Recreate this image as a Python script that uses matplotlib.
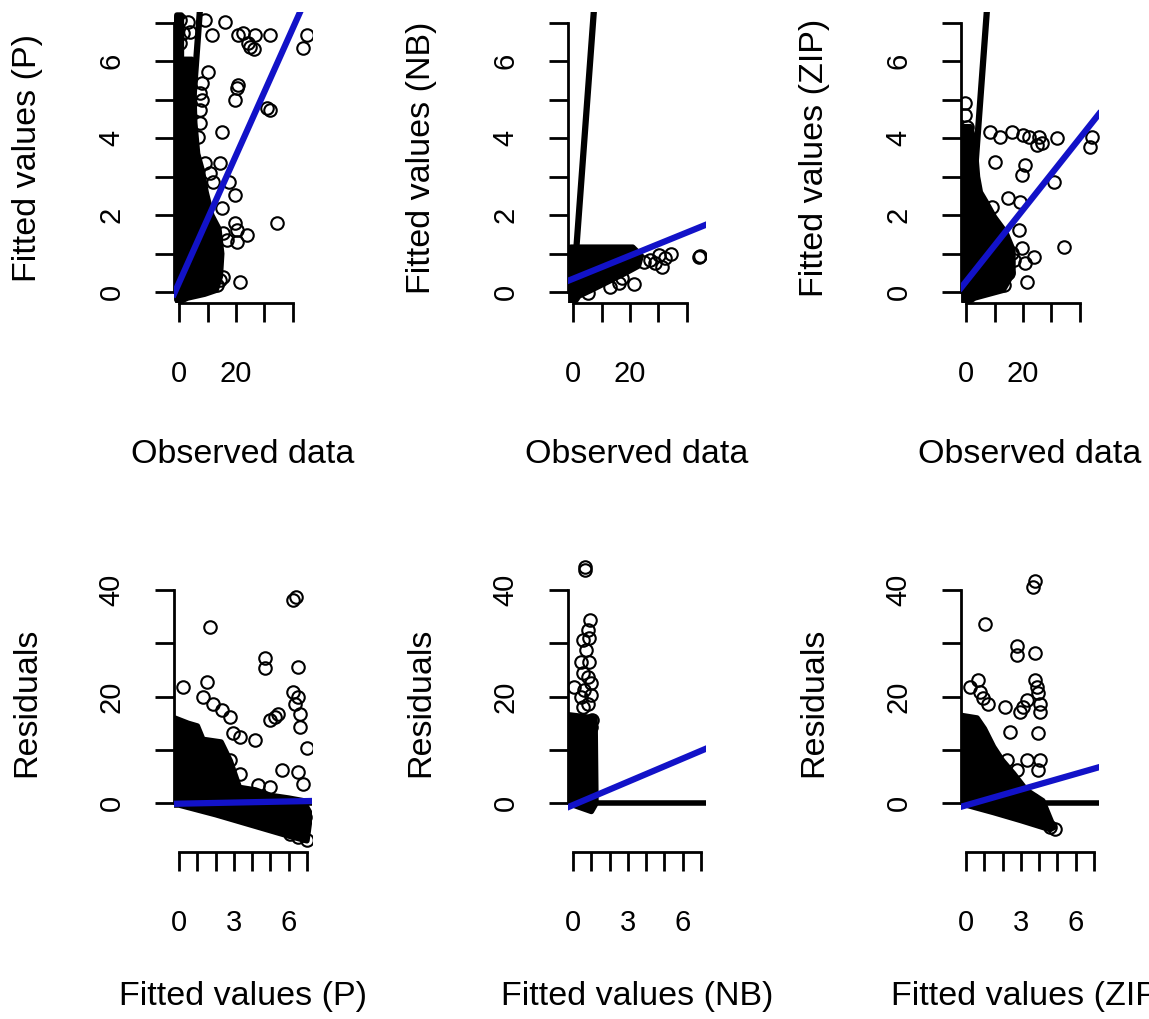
import matplotlib.pyplot as plt

plt.rcParams['font.family'] = ['Liberation Sans', 'DejaVu Sans']

# Observed counts vs fitted values, three models (points outside the dense cloud)
obs_p = [0.4, 3.3, 3.9, 1.5, 0.4, 9.2, 16.2, 11.5, 20.9, 22.6,
         26.8, 32.0, 24.4, 26.2, 25.0, 45.0, 43.8, 10.3, 20.9, 20.3,
         19.7, 30.9, 32.0, 15.0, 8.0, 7.4, 7.4, 6.8, 8.0, 7.4,
         9.2, 14.4, 10.9, 12.1, 17.4, 19.7, 15.0, 34.4, 19.7, 20.3,
         23.8, 15.6, 16.8, 20.3, 10.3, 11.5, 21.5, 15.6, 13.3, 14.4]
fit_p = [7.08, 7.03, 6.77, 6.73, 6.47, 7.06, 7.03, 6.69, 6.69, 6.73,
         6.69, 6.69, 6.47, 6.32, 6.38, 6.69, 6.34, 5.73, 5.39, 5.30,
         5.00, 4.78, 4.74, 4.17, 5.00, 4.74, 4.39, 4.04, 5.43, 5.17,
         3.35, 3.35, 3.09, 2.87, 2.87, 2.52, 2.18, 1.80, 1.79, 1.61,
         1.48, 1.53, 1.35, 1.31, 0.88, 0.66, 0.27, 0.40, 0.18, 0.31]

obs_nb = [21.3, 29.0, 31.3, 34.3, 32.5, 30.2, 27.2, 44.3, 44.6, 24.8,
          17.2, 13.1, 16.0, 5.4]
fit_nb = [0.22, 0.75, 0.66, 1.00, 0.88, 0.96, 0.83, 0.92, 0.95, 0.79,
          0.36, 0.14, 0.23, -0.03]

obs_zip = [-0.35, -0.35, 0.24, 8.5, 12.0, 16.1, 20.2, 22.0, 25.5, 24.9,
           26.7, 32.0, 44.4, 43.8, 10.2, 20.8, 19.7, 30.8, 14.9, 19.1,
           9.1, 34.4, 19.7, 23.8, 20.8, 16.1, 10.8, 14.9, 21.4, 13.2,
           16.7, 18.5]
fit_zip = [4.91, 4.61, 4.30, 4.17, 4.04, 4.17, 4.09, 4.04, 4.04, 3.83,
           3.87, 4.00, 4.04, 3.78, 3.39, 3.30, 3.04, 2.87, 2.44, 2.35,
           2.22, 1.18, 1.14, 0.92, 0.75, 1.01, 0.66, 0.49, 0.27, 0.18,
           0.83, 1.61]

# Fitted values vs residuals
res_fit_p = [0.24, 1.69, 1.51, 1.33, 1.87, 2.33, 2.79, 2.97, 3.33, 4.15,
             2.79, 3.33, 4.70, 4.70, 6.25, 6.43, 6.52, 6.25, 6.52, 6.34,
             6.61, 6.61, 6.98, 4.97, 5.25, 5.43, 5.61, 6.52, 6.79, 4.33,
             4.97, 6.89, 6.07, 6.98, 6.52, 5.70, 4.06, 4.43, 5.34]
res_p = [21.8, 33.1, 22.8, 20.0, 18.7, 17.5, 16.2, 13.1, 12.5, 11.8,
         8.1, 5.6, 27.2, 25.3, 38.1, 38.7, 25.6, 20.9, 20.0, 18.7,
         16.8, 14.3, 10.3, 15.6, 16.2, 16.8, 6.2, 5.9, 3.7, 3.4,
         3.1, -2.6, -5.7, -6.9, -6.3, -4.5, 1.8, 0.0, -1.9]

res_fit_nb = [0.65, 0.65, 0.93, 0.79, 0.88, 0.52, 0.70, 0.43, 0.88, 0.52,
              0.79, 0.07, 0.97, 0.61, 0.43, 0.97, 0.79, 0.52, 1.06, 0.97]
res_nb = [43.8, 44.3, 34.4, 32.5, 30.9, 30.6, 28.7, 26.5, 26.5, 24.4,
          23.7, 21.8, 22.5, 21.2, 20.0, 20.3, 18.7, 18.1, 15.6, 14.3]

res_fit_zip = [3.77, 3.68, 1.04, 2.77, 2.77, 3.77, 0.22, 0.67, 0.77, 0.95,
               1.22, 3.77, 3.86, 3.95, 3.32, 3.13, 2.95, 2.13, 4.04, 4.04,
               2.40, 3.95, 2.22, 3.32, 4.04, 3.95, 2.77, 2.31, 4.59, 4.86,
               4.04, 3.68]
res_zip = [41.6, 40.6, 33.7, 29.4, 27.8, 28.1, 21.8, 23.1, 20.9, 19.7,
           18.7, 23.1, 21.8, 20.6, 19.3, 18.1, 17.1, 18.1, 18.7, 17.1,
           13.4, 13.1, 8.1, 8.1, 8.1, 6.2, 6.2, 4.6, -4.4, -4.8,
           -1.3, 0.56]

# Outlines of the overplotted (solid black) regions
cloud_p_x = [-0.8, -0.8, 0.8, 0.8, 4.5, 5.0, 5.5, 6.5, 8.0, 9.5,
             11.5, 14.0, 15.0, 14.5, 13.0, 9.0, 3.0, 0.0]
cloud_p_y = [-0.2, 7.2, 7.2, 6.05, 6.05, 5.6, 4.4, 3.6, 3.2, 2.6,
             2.0, 1.65, 1.0, 0.4, 0.05, -0.05, -0.15, -0.25]
cloud_nb_x = [-0.8, -0.8, 21.0, 24.0, 23.0, 18.0, 12.0, 6.0, 2.0, 0.3]
cloud_nb_y = [-0.28, 1.17, 1.17, 0.95, 0.68, 0.48, 0.26, 0.04, -0.1, -0.28]
cloud_zip_x = [-0.8, -0.8, 1.5, 3.0, 4.0, 5.0, 7.0, 10.0, 14.0, 16.5,
               16.5, 13.0, 8.0, 3.0, 0.3]
cloud_zip_y = [-0.25, 4.3, 4.3, 3.9, 3.0, 2.6, 2.35, 1.95, 1.55, 1.1,
               0.5, 0.05, -0.05, -0.15, -0.28]

rcloud_p_x = [-0.25, -0.25, 0.5, 1.0, 1.3, 2.3, 2.8, 3.3, 4.2, 5.0,
              6.0, 6.8, 7.2, 7.0, 6.0, 4.0, 2.0, 0.0]
rcloud_p_y = [-0.3, 16.0, 15.0, 14.5, 12.0, 11.5, 8.0, 3.0, 2.5, 1.5,
              1.0, 0.5, -2.0, -7.0, -6.1, -4.1, -2.1, -0.3]
rcloud_nb_x = [-0.25, -0.25, 1.2, 1.25, 1.0, 0.0]
rcloud_nb_y = [-0.3, 16.6, 16.0, 0.0, -1.5, -0.3]
rcloud_zip_x = [-0.3, -0.3, 0.6, 1.0, 1.5, 2.0, 2.6, 3.3, 4.2, 4.8,
                4.6, 3.0, 1.5, 0.0]
rcloud_zip_y = [-0.3, 16.5, 16.0, 14.0, 10.6, 8.0, 5.6, 2.5, 0.5, -4.5,
                -4.9, -3.2, -1.7, -0.3]

# Regression lines (intercept, slope)
line_obs = {'P': (0.25, 0.165), 'NB': (0.35, 0.030), 'ZIP': (0.28, 0.093)}
line_res = {'P': (-0.05, 0.07), 'NB': (-0.3, 1.45), 'ZIP': (-0.35, 0.98)}

BLUE = '#1212c8'
W, H = 1149, 1019


def add_panel(fig, left, top, bottom):
    return fig.add_axes([left / W, 1 - bottom / H, 138 / W, (bottom - top) / H])


def style_axes(ax, xticks, xlabels, yticks, ylabels, xlab, ylab, xlab_y):
    for side in ['top', 'right']:
        ax.spines[side].set_visible(False)
    ax.spines['left'].set_bounds(yticks[0], yticks[-1])
    ax.spines['bottom'].set_bounds(xticks[0], xticks[-1])
    ax.spines['left'].set_linewidth(2)
    ax.spines['bottom'].set_linewidth(2)
    ax.set_xticks(xticks, xlabels)
    ax.set_yticks(yticks, ylabels)
    ax.tick_params(direction='out', length=14, width=2, labelsize=21)
    ax.tick_params(axis='x', pad=27)
    ax.tick_params(axis='y', pad=21)
    for lab in ax.get_yticklabels():
        lab.set_rotation(90)
        lab.set_va('center')
    ax.set_xlabel(xlab, fontsize=24.5)
    ax.set_ylabel(ylab, fontsize=24.5)
    ax.xaxis.set_label_coords(0.5, xlab_y)
    ax.xaxis.label.set_va('center')
    ax.yaxis.set_label_coords(-1.065, 0.5)
    ax.yaxis.label.set_va('center')


def draw(ax, xs, ys, cx, cy, coef, ref):
    ax.fill(cx, cy, color='black', lw=4, joinstyle='round', zorder=1)
    ax.plot(xs, ys, 'o', ms=9, mfc='none', mec='black', mew=1.5, zorder=2)
    if ref == 'diag':
        ax.axline((0, 0), slope=1, color='black', lw=4.5, zorder=3)
    else:
        ax.axhline(0, color='black', lw=4, zorder=3)
    ax.axline((0, coef[0]), slope=coef[1], color=BLUE, lw=4.5, zorder=4)


fig = plt.figure(figsize=(W / 100, H / 100), dpi=100)
lefts = [174, 568, 961]

top_sets = [
    ('P', obs_p, fit_p, cloud_p_x, cloud_p_y),
    ('NB', obs_nb, fit_nb, cloud_nb_x, cloud_nb_y),
    ('ZIP', obs_zip, fit_zip, cloud_zip_x, cloud_zip_y),
]
bottom_sets = [
    ('P', res_fit_p, res_p, rcloud_p_x, rcloud_p_y),
    ('NB', res_fit_nb, res_nb, rcloud_nb_x, rcloud_nb_y),
    ('ZIP', res_fit_zip, res_zip, rcloud_zip_x, rcloud_zip_y),
]

for left, (name, xs, ys, cx, cy) in zip(lefts, top_sets):
    ax = add_panel(fig, left, 12, 303)
    draw(ax, xs, ys, cx, cy, line_obs[name], 'diag')
    ax.set_xlim(-1.8, 46.8)
    ax.set_ylim(-0.28, 7.28)
    style_axes(ax, [0, 10, 20, 30, 40], ['0', '', '20', '', ''],
               list(range(8)), ['0', '', '2', '', '4', '', '6', ''],
               'Observed data', f'Fitted values ({name})', -0.522)

for left, (name, xs, ys, cx, cy) in zip(lefts, bottom_sets):
    ax = add_panel(fig, left, 552, 852)
    draw(ax, xs, ys, cx, cy, line_res[name], 'zero')
    ax.set_xlim(-0.28, 7.28)
    ax.set_ylim(-9.1, 47.1)
    style_axes(ax, list(range(8)), ['0', '', '', '3', '', '', '6', ''],
               [0, 10, 20, 30, 40], ['0', '', '20', '', '40'],
               f'Fitted values ({name})', 'Residuals', -0.483)

fig.savefig('out.png', dpi=100)
